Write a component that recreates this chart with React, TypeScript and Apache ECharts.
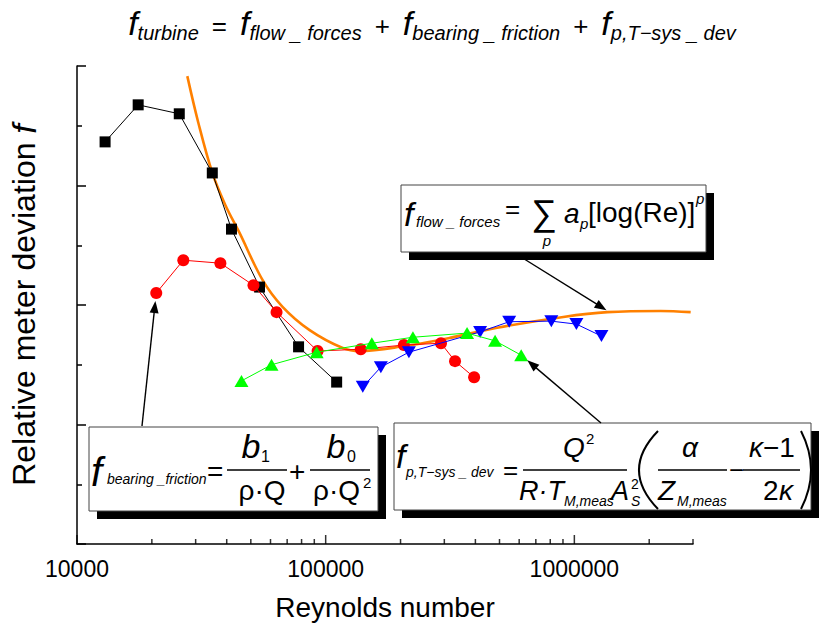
import React, { useEffect, useRef } from 'react';
import * as echarts from 'echarts';

// ---- data (Reynolds number, relative deviation in arbitrary units) ----
const blackRe = [12970, 17620, 25780, 35000, 41800, 54200, 77800, 110700];
const blackF = [6.73, 7.35, 7.2, 6.21, 5.27, 4.3, 3.3, 2.71];
const redRe = [20830, 26760, 37720, 51250, 63450, 92800, 138400, 206300, 290900, 331300, 395300];
const redF = [4.2, 4.75, 4.7, 4.33, 3.88, 3.23, 3.26, 3.33, 3.36, 3.06, 2.79];
const greenRe = [45850, 60570, 92000, 153300, 224300, 370300, 480000, 611300];
const greenF = [2.73, 3.0, 3.21, 3.36, 3.46, 3.53, 3.4, 3.16];
const blueRe = [141000, 166700, 216100, 417800, 547000, 808000, 1019000, 1285000];
const blueF = [2.63, 2.96, 3.21, 3.55, 3.72, 3.73, 3.68, 3.48];
const fitRe = [27770, 30750, 35020, 39520, 45000, 55710, 67080, 86200, 117100, 137100, 198800, 316200, 489200, 903000, 1359000, 2222000, 2936000];
const fitF = [7.83, 7.05, 6.21, 5.67, 5.21, 4.42, 3.97, 3.58, 3.28, 3.23, 3.3, 3.45, 3.62, 3.8, 3.88, 3.9, 3.88];
const xMajorTicks = [10000, 100000, 1000000];
const xMinorTicks = [20000, 30000, 40000, 50000, 60000, 70000, 80000, 90000, 200000, 300000, 400000, 500000, 600000, 700000, 800000, 900000, 2000000, 3000000];

const FONT = '"Liberation Sans", Arial, sans-serif';

let mctx: CanvasRenderingContext2D | null = null;
function tw(t: string, size: number, italic = false): number {
  if (!mctx) mctx = document.createElement('canvas').getContext('2d');
  mctx!.font = `${italic ? 'italic ' : ''}${size}px ${FONT}`;
  return mctx!.measureText(t).width;
}

function T(t: string, x: number, base: number, size: number, italic = false, align = 'left'): any {
  return {
    type: 'text', x, y: base - size * 0.35, silent: true, z: 120,
    style: { text: t, font: `${italic ? 'italic ' : ''}${size}px ${FONT}`, fill: '#000', align, verticalAlign: 'middle' },
  };
}
function L(x1: number, y1: number, x2: number, y2: number, w = 1.3): any {
  return { type: 'line', silent: true, z: 120, shape: { x1, y1, x2, y2 }, style: { stroke: '#000', lineWidth: w } };
}
function box(x: number, y: number, w: number, h: number): any[] {
  return [
    { type: 'rect', silent: true, z: 100, shape: { x: x + 8, y: y + 8, width: w, height: h }, style: { fill: '#000' } },
    { type: 'rect', silent: true, z: 101, shape: { x, y, width: w, height: h }, style: { fill: '#fff', stroke: '#444', lineWidth: 1 } },
  ];
}
function arrow(x1: number, y1: number, x2: number, y2: number, back = 0): any[] {
  const dx = x2 - x1, dy = y2 - y1;
  const len = Math.hypot(dx, dy);
  const ux = dx / len, uy = dy / len;
  const tx = x2 - ux * back, ty = y2 - uy * back;
  const hl = 12, hw = 4.5;
  const bx = tx - ux * hl, by = ty - uy * hl;
  return [
    L(x1, y1, bx + ux * 2, by + uy * 2, 1.4),
    { type: 'polygon', silent: true, z: 120, shape: { points: [[tx, ty], [bx - uy * hw, by + ux * hw], [bx + uy * hw, by - ux * hw]] }, style: { fill: '#000' } },
  ];
}
type P = { t: string; s: number; i?: boolean; dy?: number; g?: number };
function seq(ps: P[], cx: number, base: number): any[] {
  const widths = ps.map((p) => tw(p.t, p.s, p.i) + (p.g || 0));
  const total = widths.reduce((a, b) => a + b, 0);
  let x = cx - total / 2;
  const els: any[] = [];
  ps.forEach((p, k) => {
    x += p.g || 0;
    els.push(T(p.t, x, base + (p.dy || 0), p.s, p.i));
    x += widths[k] - (p.g || 0);
  });
  return els;
}

function pairs(xs: number[], ys: number[]) {
  return xs.map((x, i) => [x, ys[i]]);
}

export default function App() {
  const ref = useRef<HTMLDivElement>(null);
  useEffect(() => {
    const chart = echarts.init(ref.current!, null, { renderer: 'svg' });
    const option: any = {
      animation: false,
      backgroundColor: '#fff',
      grid: { left: 77, right: 126, top: 66, bottom: 88, containLabel: false, outerBoundsMode: 'none' },
      xAxis: {
        type: 'log', logBase: 10, min: 10000, max: 3000000,
        name: 'Reynolds number', nameLocation: 'middle', nameGap: 49,
        nameTextStyle: { fontFamily: FONT, fontSize: 28, color: '#000' },
        axisLine: { show: true, onZero: false, lineStyle: { color: '#000', width: 1.5 } },
        axisTick: { show: false },
        minorTick: { show: false },
        splitLine: { show: false },
        minorSplitLine: { show: false },
        axisLabel: {
          color: '#000', fontFamily: FONT, fontSize: 23, margin: 13, showMinLabel: true, showMaxLabel: true,
          formatter: (v: number) => {
            const l = Math.log10(v);
            return Math.abs(l - Math.round(l)) < 1e-6 ? String(Math.round(v)) : '';
          },
        },
      },
      yAxis: {
        type: 'value', min: 0, max: 8, interval: 2,
        name: 'Relative meter deviation {f|f}', nameLocation: 'middle', nameGap: 36,
        nameTextStyle: { fontFamily: FONT, fontSize: 32, color: '#000', rich: { f: { fontFamily: FONT, fontSize: 34, fontStyle: 'italic', color: '#000' } } },
        axisLine: { show: true, lineStyle: { color: '#000', width: 1.5 } },
        axisTick: { show: true, inside: true, length: 9, lineStyle: { color: '#000', width: 1.5 } },
        minorTick: { show: true, splitNumber: 2, length: 5, lineStyle: { color: '#000', width: 1.5 } },
        axisLabel: { show: false },
        splitLine: { show: false },
        minorSplitLine: { show: false },
      },
      series: [
        {
          name: 'fit', type: 'line', data: pairs(fitRe, fitF), smooth: 0.35, showSymbol: false, symbol: 'none',
          lineStyle: { color: '#FF8000', width: 2.6 }, z: 2, silent: true,
        },
        {
          name: 'black', type: 'line', data: pairs(blackRe, blackF), symbol: 'rect', symbolSize: 11,
          itemStyle: { color: '#000' }, lineStyle: { color: '#000', width: 1 }, z: 3, silent: true,
        },
        {
          name: 'red', type: 'line', data: pairs(redRe, redF), symbol: 'circle', symbolSize: 12,
          itemStyle: { color: '#FF0000' }, lineStyle: { color: '#FF0000', width: 1 }, z: 4, silent: true,
        },
        {
          name: 'blue', type: 'line', data: pairs(blueRe, blueF), symbol: 'triangle', symbolRotate: 180, symbolSize: [14, 12],
          itemStyle: { color: '#0000FF' }, lineStyle: { color: '#0000FF', width: 1 }, z: 5, silent: true,
        },
        {
          name: 'green', type: 'line', data: pairs(greenRe, greenF), symbol: 'triangle', symbolSize: [14, 12],
          itemStyle: { color: '#00FF00' }, lineStyle: { color: '#00FF00', width: 1 }, z: 6, silent: true,
        },
        {
          name: 'majorTicks', type: 'scatter', data: xMajorTicks.map((v) => [v, 0]), symbol: 'rect',
          symbolSize: [1.5, 9], symbolOffset: [0, -4.5], itemStyle: { color: '#000' }, clip: false, silent: true, z: 7,
        },
        {
          name: 'minorTicks', type: 'scatter', data: xMinorTicks.map((v) => [v, 0]), symbol: 'rect',
          symbolSize: [1.5, 5], symbolOffset: [0, -2.5], itemStyle: { color: '#000' }, clip: false, silent: true, z: 7,
        },
      ],
    };
    chart.setOption(option);

    const px = (re: number, f: number) => chart.convertToPixel({ gridIndex: 0 }, [re, f]) as number[];
    const pRed = px(redRe[0], redF[0]);
    const pFit = px(fitRe[14], fitF[14]);
    const pGreen = px(greenRe[7], greenF[7]);

    const els: any[] = [];
    // title
    els.push(
      ...seq(
        [
          { t: 'f', s: 34, i: true },
          { t: 'turbine', s: 20, i: true, dy: 5 },
          { t: '=', s: 26, g: 13 },
          { t: 'f', s: 34, i: true, g: 13 },
          { t: 'flow _ forces', s: 20, i: true, dy: 5 },
          { t: '+', s: 26, g: 13 },
          { t: 'f', s: 34, i: true, g: 13 },
          { t: 'bearing _ friction', s: 20, i: true, dy: 5 },
          { t: '+', s: 26, g: 13 },
          { t: 'f', s: 34, i: true, g: 13 },
          { t: 'p,T\u2212sys _ dev', s: 20, i: true, dy: 5 },
        ],
        432,
        35
      )
    );

    // box 1: flow forces
    els.push(...box(401, 185, 305, 67));
    els.push(T('f', 404, 226, 34, true));
    els.push(T('flow _ forces', 416, 227, 15, true));
    els.push(T('=', 505, 218, 26));
    els.push(T('\u2211', 531, 225, 36));
    els.push(T('p', 547, 246, 15, true, 'center'));
    els.push(T('a', 564, 223, 28, true));
    els.push(T('p', 580, 229, 15, true));
    els.push(T('[log(Re)]', 588, 222, 28));
    els.push(T('p', 696, 204, 15, true));

    // box 2: bearing friction
    els.push(...box(89, 427, 289, 84));
    els.push(T('f', 91, 486, 40, true));
    els.push(T('bearing _friction', 107, 484, 14, true));
    els.push(T('=', 207, 481, 28));
    els.push(L(227, 470, 287, 470));
    els.push(T('b', 251, 458, 34, true, 'center'));
    els.push(T('1', 261, 462, 16));
    els.push(T('\u03c1\u00b7Q', 262, 500, 28, false, 'center'));
    els.push(T('+', 289, 481, 28));
    els.push(L(310, 470, 370, 470));
    els.push(T('b', 336, 458, 34, true, 'center'));
    els.push(T('0', 347, 462, 16));
    els.push(T('\u03c1\u00b7Q', 313, 500, 28));
    els.push(T('2', 363, 488, 15));

    // box 3: p,T system deviation
    els.push(...box(394, 423, 417, 87));
    els.push(T('f', 396, 468, 34, true));
    els.push(T('p,T\u2212sys _ dev', 406, 477, 14, true));
    els.push(T('=', 503, 479, 26));
    els.push(L(523, 470, 627, 470));
    els.push(T('Q', 563, 457, 28, true));
    els.push(T('2', 586, 444, 15));
    els.push(T('R\u00b7T', 519, 500, 27, true));
    els.push(T('M,meas', 564, 506, 14, true));
    els.push(T('A', 611, 500, 27, true));
    els.push(T('S', 631, 506, 14, true));
    els.push(T('2', 631, 489, 14));
    els.push({ type: 'bezierCurve', silent: true, z: 120, shape: { x1: 658, y1: 431, x2: 658, y2: 509, cpx1: 620, cpy1: 470 }, style: { stroke: '#000', lineWidth: 2, fill: 'none' } });
    els.push(L(658, 470, 727, 470));
    els.push(T('\u03b1', 690, 457, 28, true, 'center'));
    els.push(T('Z', 658, 500, 28, true));
    els.push(T('M,meas', 677, 506, 14, true));
    els.push(T('\u2212', 729, 479, 26));
    els.push(L(743, 470, 800, 470));
    els.push(T('\u03ba', 749, 457, 28, true));
    els.push(T('\u22121', 763, 457, 28));
    els.push(T('2', 763, 500, 28));
    els.push(T('\u03ba', 779, 500, 28, true));
    els.push({ type: 'bezierCurve', silent: true, z: 120, shape: { x1: 801, y1: 431, x2: 801, y2: 509, cpx1: 821, cpy1: 470 }, style: { stroke: '#000', lineWidth: 2, fill: 'none' } });

    // arrows
    els.push(...arrow(142, 426, pRed[0], pRed[1], 8));
    els.push(...arrow(521, 257, pFit[0] - 1, pFit[1] - 2, 0));
    els.push(...arrow(601, 423, pGreen[0], pGreen[1], 8));

    chart.setOption({ graphic: { elements: els } });
    return () => chart.dispose();
  }, []);
  return <div ref={ref} style={{ position: 'absolute', left: 0, top: 0, width: 819, height: 632 }} />;
}
